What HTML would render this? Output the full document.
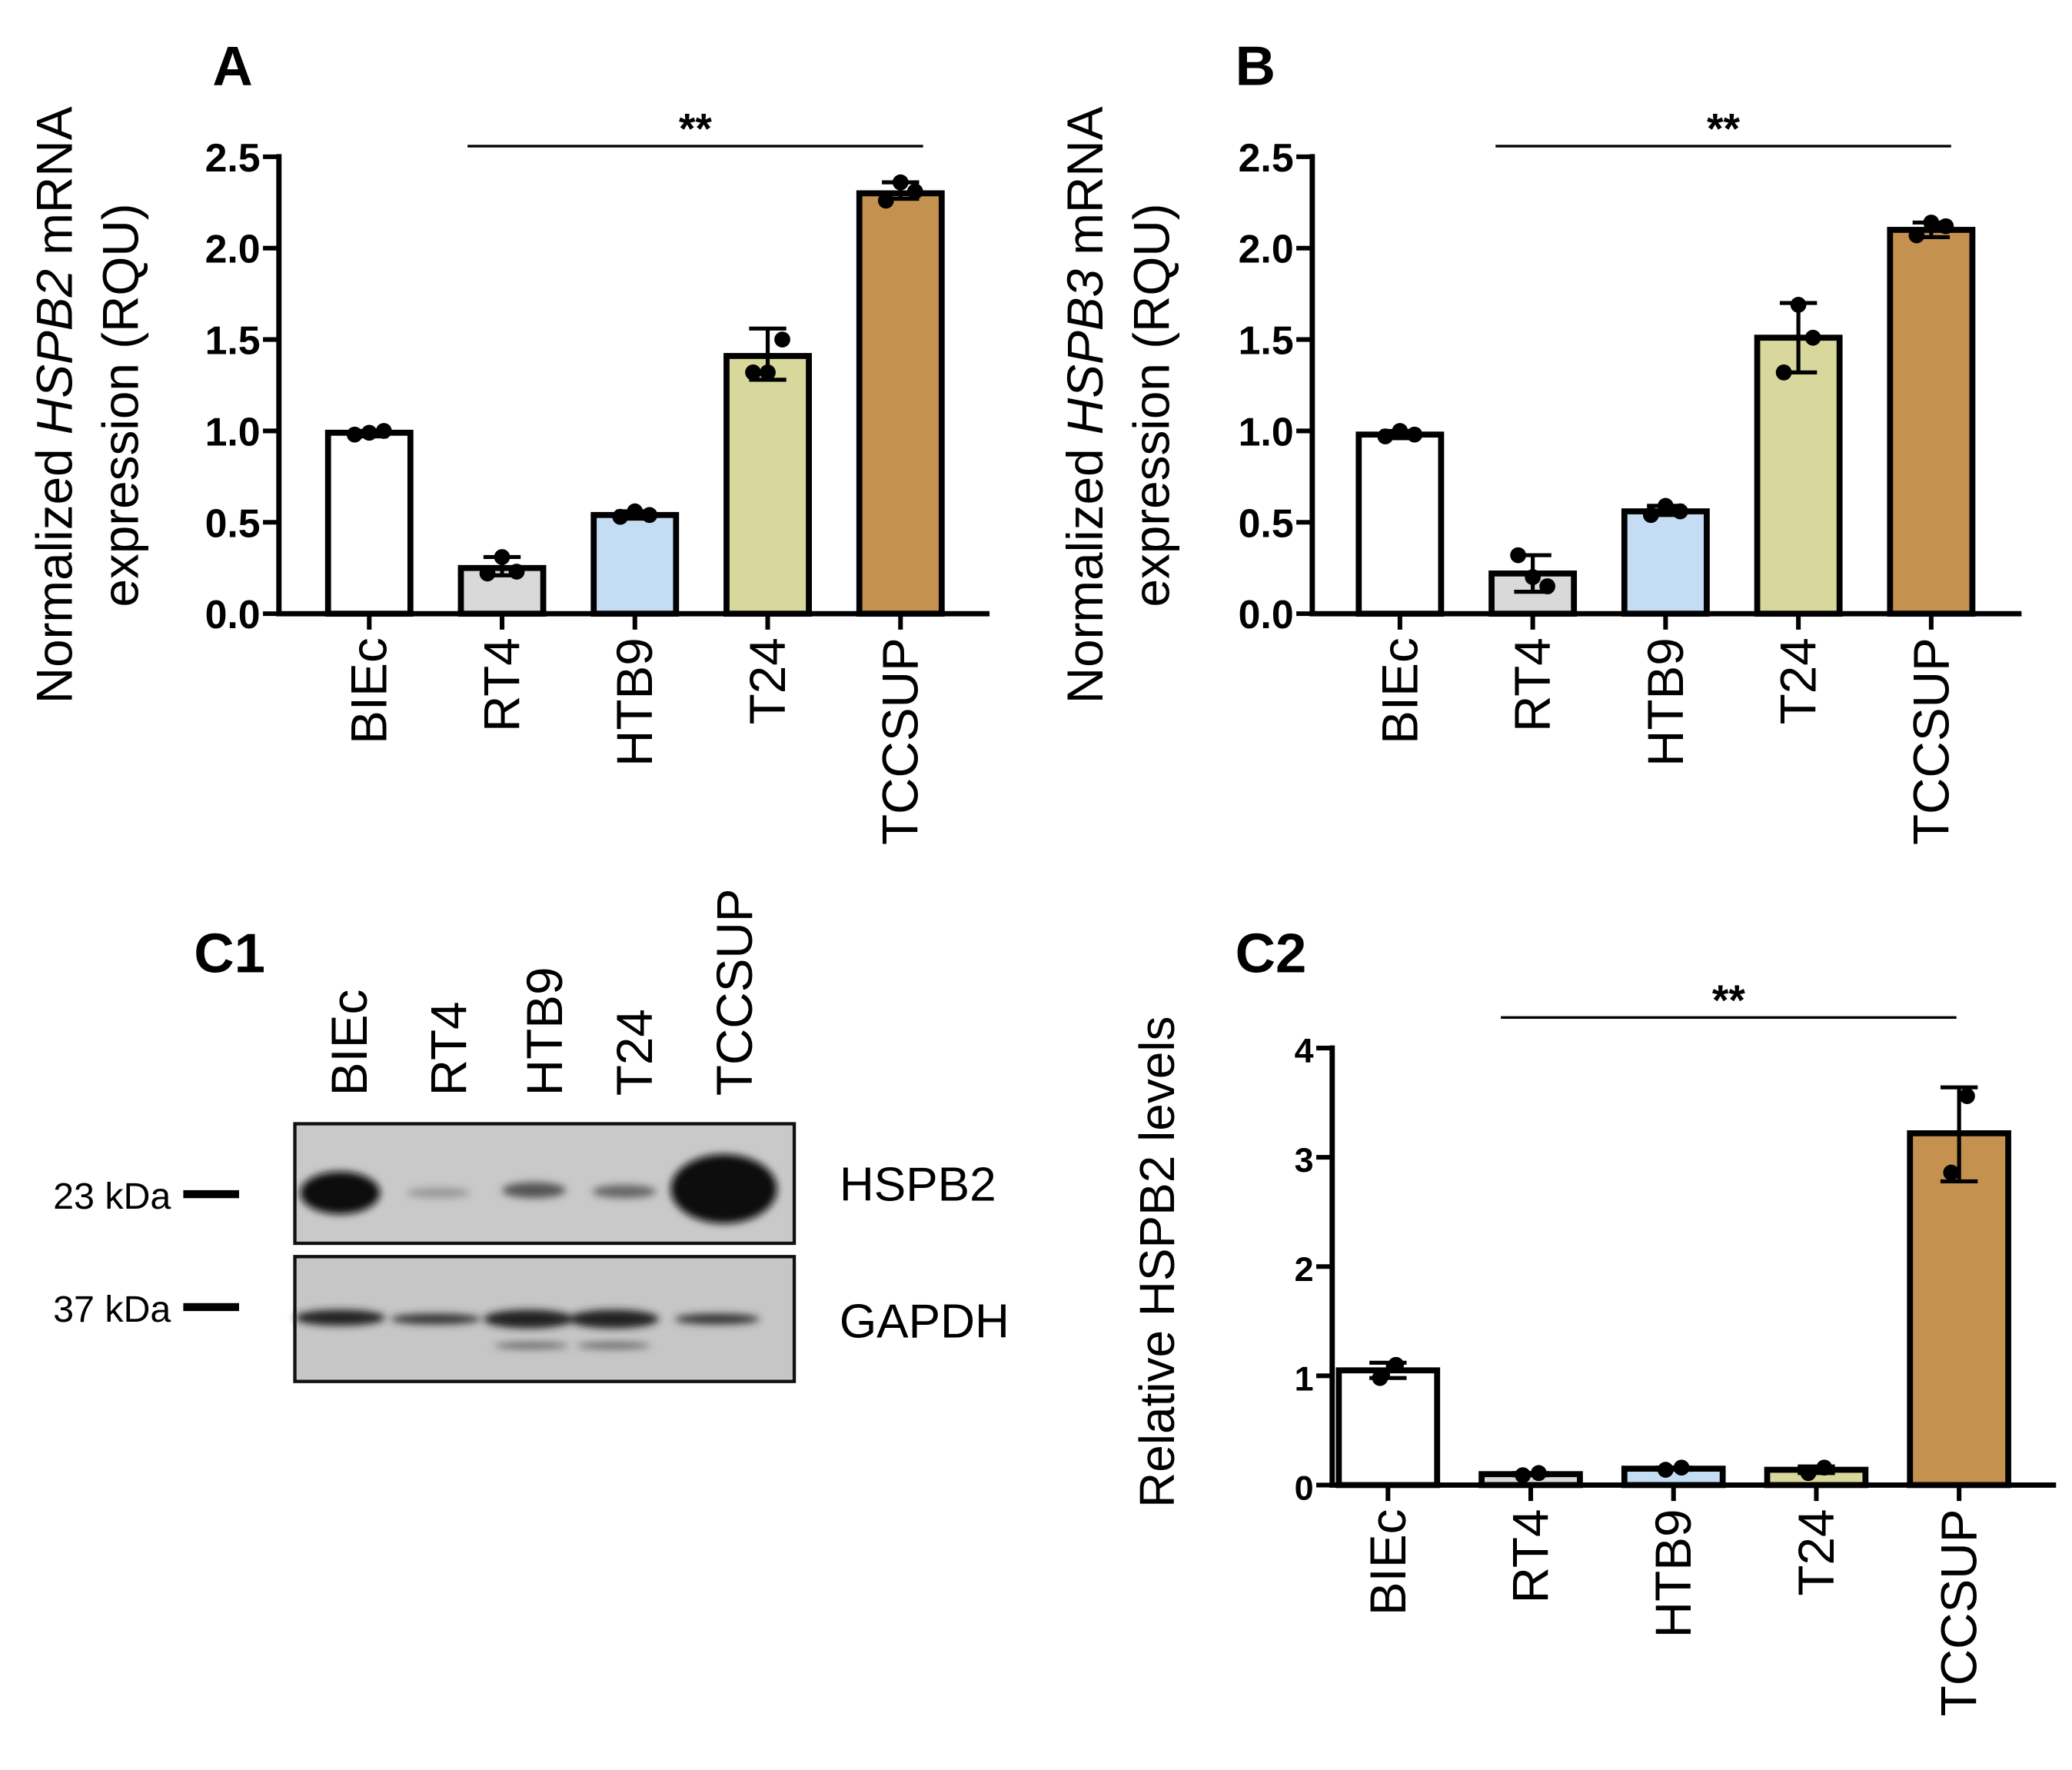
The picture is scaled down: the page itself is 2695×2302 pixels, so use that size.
<!DOCTYPE html>
<html><head><meta charset="utf-8">
<style>
html,body{margin:0;padding:0;background:#fff;}
svg{display:block;font-family:"Liberation Sans",Arial,sans-serif;}
</style></head>
<body>
<svg id="fig" width="2695" height="2302" viewBox="0 0 1560 1332.5" xmlns="http://www.w3.org/2000/svg">
<defs>
<filter id="blur3"><feGaussianBlur stdDeviation="3"/></filter>
</defs>
<g id="root"></g>
<text x="160" y="64" font-size="42" font-weight="bold">A</text>
<text x="930" y="64" font-size="42" font-weight="bold">B</text>
<text x="146" y="732" font-size="42" font-weight="bold">C1</text>
<text x="930" y="732" font-size="42" font-weight="bold">C2</text>

<g font-size="38">
<text transform="translate(54,305) rotate(-90)" text-anchor="middle">Normalized <tspan font-style="italic">HSPB2</tspan> mRNA</text>
<text transform="translate(104,305) rotate(-90)" text-anchor="middle">expression (RQU)</text>
</g>
<g font-size="38">
<text transform="translate(830,305) rotate(-90)" text-anchor="middle">Normalized <tspan font-style="italic">HSPB3</tspan> mRNA</text>
<text transform="translate(880,305) rotate(-90)" text-anchor="middle">expression (RQU)</text>
</g>
<text transform="translate(884,950) rotate(-90)" text-anchor="middle" font-size="37">Relative HSPB2 levels</text>

<g>
<rect x="222" y="846" width="376" height="90" fill="#c9c9c9" stroke="#111" stroke-width="2.5"/>
<rect x="222" y="946" width="376" height="94" fill="#c6c6c6" stroke="#111" stroke-width="2.5"/>
<g filter="url(#blur3)">
<ellipse cx="256" cy="898" rx="30" ry="16" fill="#111"/>
<ellipse cx="330" cy="898" rx="24" ry="4" fill="#999"/>
<ellipse cx="402" cy="896" rx="24" ry="6" fill="#555"/>
<ellipse cx="470" cy="897" rx="24" ry="5" fill="#666"/>
<ellipse cx="545" cy="895" rx="40" ry="26" fill="#0a0a0a"/>
<ellipse cx="256" cy="992" rx="34" ry="6" fill="#222"/>
<ellipse cx="328" cy="993" rx="34" ry="4" fill="#333"/>
<ellipse cx="398" cy="993" rx="34" ry="7" fill="#222"/>
<ellipse cx="462" cy="993" rx="34" ry="7" fill="#222"/>
<ellipse cx="540" cy="993" rx="32" ry="4" fill="#333"/>
<ellipse cx="400" cy="1013" rx="28" ry="2.5" fill="#666"/>
<ellipse cx="462" cy="1013" rx="28" ry="2.5" fill="#666"/>
</g>
<text x="40" y="910" font-size="28">23 kDa</text>
<rect x="138" y="896" width="42" height="6" fill="#000"/>
<text x="40" y="995" font-size="28">37 kDa</text>
<rect x="138" y="981" width="42" height="6" fill="#000"/>
<text x="632" y="904" font-size="36">HSPB2</text>
<text x="632" y="1007" font-size="36">GAPDH</text>
<g font-size="38">
<text transform="translate(276,825) rotate(-90)">BIEc</text>
<text transform="translate(351,825) rotate(-90)">RT4</text>
<text transform="translate(423,825) rotate(-90)">HTB9</text>
<text transform="translate(491,825) rotate(-90)">T24</text>
<text transform="translate(566,825) rotate(-90)">TCCSUP</text>
</g>
</g>
</svg>
<script>
const categories = ["BIEc","RT4","HTB9","T24","TCCSUP"];
const colors = ["#ffffff","#d9d9d9","#c5dcf5","#d8d89c","#c4914e"];
const aValues = [0.99,0.25,0.54,1.41,2.30];
const aErrLow = [0.97,0.21,0.52,1.28,2.27];
const aErrHigh = [1.00,0.31,0.56,1.56,2.36];
const aPoints = [[0.98,0.99,1.00],[0.22,0.31,0.23],[0.53,0.56,0.54],[1.32,1.32,1.50],[2.26,2.36,2.31]];
const bValues = [0.98,0.22,0.56,1.51,2.10];
const bErrLow = [0.96,0.12,0.54,1.32,2.06];
const bErrHigh = [1.00,0.32,0.59,1.70,2.14];
const bPoints = [[0.97,1.00,0.98],[0.32,0.20,0.15],[0.54,0.59,0.56],[1.32,1.69,1.51],[2.07,2.14,2.12]];
const cValues = [1.05,0.10,0.15,0.14,3.22];
const cErrLow = [0.98,0.09,0.14,0.11,2.78];
const cErrHigh = [1.12,0.11,0.16,0.17,3.64];
const cPoints = [[0.98,1.10],[0.09,0.11],[0.14,0.16],[0.11,0.16],[2.86,3.56]];
const abTicks = ["0.0","0.5","1.0","1.5","2.0","2.5"];
const cTicks = ["0","1","2","3","4"];

const NS="http://www.w3.org/2000/svg";
const root=document.getElementById('root');
function mk(tag,attrs,parent){const e=document.createElementNS(NS,tag);for(const k in attrs)e.setAttribute(k,attrs[k]);(parent||root).appendChild(e);return e;}

function chart(id,cfg){
  const g=mk('g',{});
  
  
  const y=v=>cfg.y0-(v-0)/cfg.max*(cfg.y0-cfg.yTop);
  const x=i=>cfg.x0+i*cfg.step;
  cfg.values.forEach((v,i)=>{
    const r=mk('rect',{x:x(i)-cfg.bw/2,y:y(v),width:cfg.bw,height:cfg.y0-y(v),fill:colors[i],stroke:'#000','stroke-width':4.5},g);
    
    
    const eb=mk('path',{d:`M${x(i)} ${y(cfg.lo[i])}V${y(cfg.hi[i])}M${x(i)-14} ${y(cfg.hi[i])}H${x(i)+14}M${x(i)-14} ${y(cfg.lo[i])}H${x(i)+14}`,stroke:'#000','stroke-width':3,fill:'none'},g);
    
    
    const n=cfg.pts[i].length;
    cfg.pts[i].forEach((p,j)=>{
      const off=n===3?(j-1)*11:(j-0.5)*12;
      const c=mk('circle',{cx:x(i)+off,cy:y(p),r:6,fill:'#000'},g);
      
      
    });
    const t=mk('text',{transform:`translate(${x(i)+13},${cfg.y0+18}) rotate(-90)`,'text-anchor':'end','font-size':38},g);
    t.textContent=categories[i];
    
    
    mk('line',{x1:x(i),y1:cfg.y0,x2:x(i),y2:cfg.y0+12,stroke:'#000','stroke-width':3.5},g);
  });
  const ax=mk('path',{d:`M${cfg.ax} ${cfg.yTop-2}V${cfg.y0}H${cfg.xEnd}`,stroke:'#000','stroke-width':4,fill:'none'},g);
  
  
  cfg.ticks.forEach((tl,k)=>{
    const v=k*cfg.max/(cfg.ticks.length-1);
    mk('line',{x1:cfg.ax-12,y1:y(v),x2:cfg.ax,y2:y(v),stroke:'#000','stroke-width':3.5},g);
    const t=mk('text',{x:cfg.ax-14,y:y(v)+11,'text-anchor':'end','font-size':cfg.tfs,'font-weight':'bold'},g);
    t.textContent=tl;
    
    
  });
  const s=mk('line',{x1:cfg.sig[0],y1:cfg.sig[2],x2:cfg.sig[1],y2:cfg.sig[2],stroke:'#000','stroke-width':2},g);
  
  
  const st=mk('text',{x:(cfg.sig[0]+cfg.sig[1])/2,y:cfg.sig[2]-2,'text-anchor':'middle','font-size':32,'font-weight':'bold'},g);
  st.textContent='**';
  
  
}
chart('a',{values:aValues,lo:aErrLow,hi:aErrHigh,pts:aPoints,ticks:abTicks,max:2.5,y0:462,yTop:118,ax:210,xEnd:745,x0:278,step:100,bw:62,tfs:30,sig:[352,695,110]});
chart('b',{values:bValues,lo:bErrLow,hi:bErrHigh,pts:bPoints,ticks:abTicks,max:2.5,y0:462,yTop:118,ax:988,xEnd:1522,x0:1054,step:100,bw:62,tfs:30,sig:[1126,1469,110]});
chart('c2',{values:cValues,lo:cErrLow,hi:cErrHigh,pts:cPoints,ticks:cTicks,max:4,y0:1118,yTop:789,ax:1003,xEnd:1548,x0:1045,step:107.5,bw:74,tfs:26,sig:[1130,1473,766]});
</script>
</body></html>
